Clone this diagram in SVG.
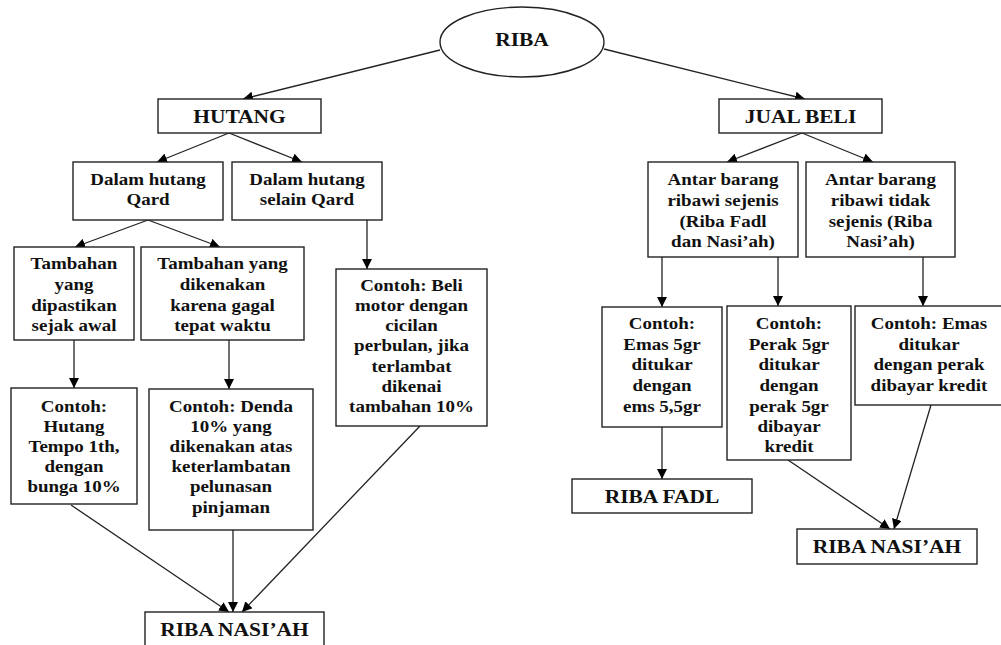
<svg xmlns="http://www.w3.org/2000/svg" width="1001" height="645" viewBox="0 0 1001 645">
<defs>
<marker id="ah" markerUnits="userSpaceOnUse" markerWidth="11" markerHeight="10" refX="10" refY="5" orient="auto">
<path d="M0,0 L10,5 L0,10 Z" fill="#000"/>
</marker>
<style>
.box{fill:#fff;stroke:#222;stroke-width:1.4}
.t{font-family:"Liberation Serif","Times New Roman",serif;font-weight:bold;font-size:16.5px;text-anchor:middle;fill:#111}
.h{font-family:"Liberation Serif","Times New Roman",serif;font-weight:bold;font-size:19px;text-anchor:middle;fill:#111}
.c line{stroke:#222;stroke-width:1.3;marker-end:url(#ah)}
</style>
</defs>
<rect width="1001" height="645" fill="#fff"/>

<g id="connectors" class="c">
<line x1="440" y1="50" x2="243" y2="99"/>
<line x1="604" y1="49" x2="805" y2="99"/>
<line x1="229" y1="133" x2="157" y2="162"/>
<line x1="229" y1="133" x2="302" y2="162"/>
<line x1="802" y1="133" x2="727" y2="162"/>
<line x1="802" y1="133" x2="873" y2="162"/>
<line x1="148" y1="220" x2="75" y2="247"/>
<line x1="148" y1="220" x2="220" y2="247"/>
<line x1="367" y1="220" x2="367" y2="269"/>
<line x1="74" y1="340" x2="74" y2="388"/>
<line x1="229" y1="340" x2="229" y2="389"/>
<line x1="662" y1="257" x2="662" y2="307"/>
<line x1="778" y1="257" x2="778" y2="306"/>
<line x1="923" y1="257" x2="923" y2="306"/>
<line x1="71" y1="505" x2="229" y2="612"/>
<line x1="233" y1="530" x2="233" y2="612"/>
<line x1="420" y1="426" x2="242" y2="612"/>
<line x1="662" y1="427" x2="662" y2="479"/>
<line x1="788" y1="460" x2="890" y2="529"/>
<line x1="931" y1="405" x2="894" y2="529"/>
</g>

<g id="riba">
<ellipse cx="522" cy="42" rx="82" ry="35" class="box"/>
<g transform="translate(522 0) scale(1.13 1)"><text class="h" x="0" y="46">RIBA</text></g>
</g>

<g id="hutang">
<rect x="158" y="99" width="163" height="34" class="box"/>
<g transform="translate(239.5 0) scale(1.13 1)"><text class="h" x="0" y="123">HUTANG</text></g>
</g>

<g id="jualbeli">
<rect x="719" y="99" width="163" height="34" class="box"/>
<g transform="translate(800.5 0) scale(1.13 1)"><text class="h" x="0" y="123">JUAL BELI</text></g>
</g>

<g id="qard">
<rect x="73" y="162" width="150" height="58" class="box"/>
<g transform="translate(148 0) scale(1.15 1)" class="t"><text x="0" y="185">Dalam hutang</text><text x="0" y="205">Qard</text></g>
</g>

<g id="selainqard">
<rect x="232" y="162" width="150" height="58" class="box"/>
<g transform="translate(307 0) scale(1.15 1)" class="t"><text x="0" y="185">Dalam hutang</text><text x="0" y="205">selain Qard</text></g>
</g>

<g id="sejenis">
<rect x="648" y="162" width="150" height="95" class="box"/>
<g transform="translate(723 0) scale(1.15 1)" class="t"><text x="0" y="185">Antar barang</text><text x="0" y="206">ribawi sejenis</text><text x="0" y="227">(Riba Fadl</text><text x="0" y="247">dan Nasi’ah)</text></g>
</g>

<g id="tidaksejenis">
<rect x="806" y="162" width="149" height="95" class="box"/>
<g transform="translate(880.5 0) scale(1.15 1)" class="t"><text x="0" y="185">Antar barang</text><text x="0" y="206">ribawi tidak</text><text x="0" y="227">sejenis (Riba</text><text x="0" y="247">Nasi’ah)</text></g>
</g>

<g id="dipastikan">
<rect x="14" y="247" width="120" height="93" class="box"/>
<g transform="translate(74 0) scale(1.15 1)" class="t"><text x="0" y="269">Tambahan</text><text x="0" y="290">yang</text><text x="0" y="311">dipastikan</text><text x="0" y="331">sejak awal</text></g>
</g>

<g id="dikenakan">
<rect x="141" y="247" width="163" height="93" class="box"/>
<g transform="translate(222.5 0) scale(1.15 1)" class="t"><text x="0" y="269">Tambahan yang</text><text x="0" y="290">dikenakan</text><text x="0" y="311">karena gagal</text><text x="0" y="331">tepat waktu</text></g>
</g>

<g id="contoh-hutang">
<rect x="11" y="388" width="126" height="116" class="box"/>
<g transform="translate(74 0) scale(1.15 1)" class="t"><text x="0" y="412">Contoh:</text><text x="0" y="432">Hutang</text><text x="0" y="452">Tempo 1th,</text><text x="0" y="472">dengan</text><text x="0" y="492">bunga 10%</text></g>
</g>

<g id="contoh-denda">
<rect x="149" y="389" width="164" height="141" class="box"/>
<g transform="translate(231 0) scale(1.15 1)" class="t"><text x="0" y="412">Contoh: Denda</text><text x="0" y="432">10% yang</text><text x="0" y="452">dikenakan atas</text><text x="0" y="472">keterlambatan</text><text x="0" y="492">pelunasan</text><text x="0" y="513">pinjaman</text></g>
</g>

<g id="contoh-motor">
<rect x="336" y="269" width="151" height="157" class="box"/>
<g transform="translate(411.5 0) scale(1.15 1)" class="t"><text x="0" y="291">Contoh: Beli</text><text x="0" y="311">motor dengan</text><text x="0" y="331">cicilan</text><text x="0" y="351">perbulan, jika</text><text x="0" y="372">terlambat</text><text x="0" y="392">dikenai</text><text x="0" y="412">tambahan 10%</text></g>
</g>

<g id="contoh-emas">
<rect x="602" y="307" width="120" height="120" class="box"/>
<g transform="translate(662 0) scale(1.15 1)" class="t"><text x="0" y="329">Contoh:</text><text x="0" y="350">Emas 5gr</text><text x="0" y="370">ditukar</text><text x="0" y="391">dengan</text><text x="0" y="412">ems 5,5gr</text></g>
</g>

<g id="contoh-perak">
<rect x="727" y="306" width="124" height="154" class="box"/>
<g transform="translate(789 0) scale(1.15 1)" class="t"><text x="0" y="329">Contoh:</text><text x="0" y="350">Perak 5gr</text><text x="0" y="370">ditukar</text><text x="0" y="391">dengan</text><text x="0" y="412">perak 5gr</text><text x="0" y="432">dibayar</text><text x="0" y="452">kredit</text></g>
</g>

<g id="contoh-emas-perak">
<rect x="855" y="306" width="150" height="99" class="box"/>
<g transform="translate(929 0) scale(1.15 1)" class="t"><text x="0" y="329">Contoh: Emas</text><text x="0" y="350">ditukar</text><text x="0" y="370">dengan perak</text><text x="0" y="391">dibayar kredit</text></g>
</g>

<g id="riba-fadl">
<rect x="572" y="479" width="180" height="34" class="box"/>
<g transform="translate(662 0) scale(1.13 1)"><text class="h" x="0" y="503">RIBA FADL</text></g>
</g>

<g id="riba-nasiah-kanan">
<rect x="797" y="529" width="180" height="35" class="box"/>
<g transform="translate(887 0) scale(1.13 1)"><text class="h" x="0" y="553">RIBA NASI’AH</text></g>
</g>

<g id="riba-nasiah-kiri">
<rect x="145" y="612" width="179" height="36" class="box"/>
<g transform="translate(234.5 0) scale(1.13 1)"><text class="h" x="0" y="636">RIBA NASI’AH</text></g>
</g>
</svg>
